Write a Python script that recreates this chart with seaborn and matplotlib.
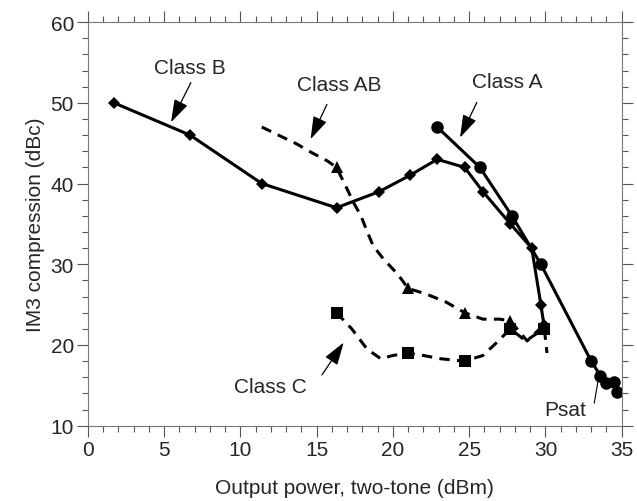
import numpy as np
import pandas as pd
import seaborn as sns
import matplotlib.pyplot as plt
from matplotlib.ticker import MultipleLocator

# values
class_a_x = [22.9, 25.7, 27.8, 29.7, 33.0, 33.6, 34.0, 34.5, 34.7]
class_a_y = [47.0, 42.0, 36.0, 30.0, 18.0, 16.2, 15.3, 15.4, 14.2]

class_b_x = [1.7, 6.7, 11.4, 16.3, 19.1, 21.1, 22.9, 24.7, 25.9, 27.7, 29.1, 29.7, 29.9]
class_b_y = [50.0, 46.0, 40.0, 37.0, 39.0, 41.0, 43.0, 42.0, 39.0, 35.0, 32.0, 25.0, 22.5]

class_ab_x = [11.4, 12.6, 13.7, 14.6, 15.7, 16.3, 16.9, 17.4, 17.9, 18.3, 18.7, 19.4,
              20.3, 21.0, 22.2, 23.5, 24.7, 25.9, 27.0, 27.7, 28.8, 29.9, 30.1]
class_ab_y = [47.0, 45.9, 44.9, 43.9, 42.8, 42.0, 39.7, 37.7, 36.0, 34.1, 32.3, 30.6,
              28.8, 27.0, 26.3, 25.3, 24.0, 23.2, 23.2, 23.0, 20.5, 22.5, 19.0]
class_ab_marks = [5, 13, 16, 19, 21]

class_c_x = [16.3, 17.3, 18.3, 19.2, 20.0, 21.0, 22.0, 23.1, 24.7, 25.9, 26.8, 27.7, 28.7, 29.9]
class_c_y = [24.0, 22.0, 19.5, 18.3, 18.7, 19.0, 18.7, 18.3, 18.0, 18.7, 20.3, 22.0, 20.5, 22.0]
class_c_marks = [0, 5, 8, 11, 13]

labels = ["Class B", "Class AB", "Class A", "Class C"]
label_xy = [(6.7, 54.4), (16.5, 52.3), (27.5, 52.7), (11.95, 14.9)]
arrow_tail = [(6.75, 52.5), (15.67, 49.8), (25.5, 50.05), (15.35, 16.3)]
arrow_tip = [(5.45, 47.6), (14.6, 45.5), (24.4, 45.7), (16.77, 20.3)]

sns.set_style("ticks")
plt.rcParams['font.family'] = ['Liberation Sans', 'DejaVu Sans']

fig = plt.figure(figsize=(6.37, 5.02), dpi=100)
ax = fig.add_axes([0.138, 0.150, 0.838, 0.804])

dash = (0, (3.4, 2.4))
lw = 2.2

sns.lineplot(x=class_b_x, y=class_b_y, ax=ax, sort=False, estimator=None, color="black",
             linewidth=lw, marker="D", markersize=6.5, markeredgewidth=0)
sns.lineplot(x=class_a_x, y=class_a_y, ax=ax, sort=False, estimator=None, color="black",
             linewidth=lw, marker="o", markersize=9, markeredgewidth=0)
sns.lineplot(x=class_ab_x, y=class_ab_y, ax=ax, sort=False, estimator=None, color="black",
             linewidth=lw, linestyle=dash, marker="^", markersize=9, markeredgewidth=0,
             markevery=class_ab_marks)
sns.lineplot(x=class_c_x, y=class_c_y, ax=ax, sort=False, estimator=None, color="black",
             linewidth=lw, linestyle=dash, marker="s", markersize=9, markeredgewidth=0,
             markevery=class_c_marks)

for lab, pos, tail, tip in zip(labels, label_xy, arrow_tail, arrow_tip):
    ax.text(pos[0], pos[1], lab, fontsize=15, ha="center", va="center")
    ax.annotate("", xy=tip, xytext=tail,
                arrowprops=dict(arrowstyle="-|>,head_length=1.4,head_width=0.45",
                                color="black", lw=0.9, shrinkA=0, shrinkB=0))

ax.text(31.3, 12.0, "Psat", fontsize=15, ha="center", va="center")
ax.plot([33.2, 33.45], [12.8, 15.55], color="black", lw=0.8)

ax.set_xlim(0, 35)
ax.set_ylim(10, 60)
ax.xaxis.set_major_locator(MultipleLocator(5))
ax.xaxis.set_minor_locator(MultipleLocator(1))
ax.yaxis.set_major_locator(MultipleLocator(10))
ax.yaxis.set_minor_locator(MultipleLocator(2))
ax.tick_params(which="both", direction="out", top=True, right=True, color="#555555", width=0.8)
ax.tick_params(which="major", length=8, labelsize=15, pad=2)
ax.tick_params(which="minor", length=4)
for s in ax.spines.values():
    s.set_color("#777777")
    s.set_linewidth(0.8)

ax.set_xlabel("Output power, two-tone (dBm)", fontsize=15, labelpad=14)
ax.set_ylabel("IM3 compression (dBc)", fontsize=15, labelpad=4)

fig.savefig("out.png", dpi=100)
